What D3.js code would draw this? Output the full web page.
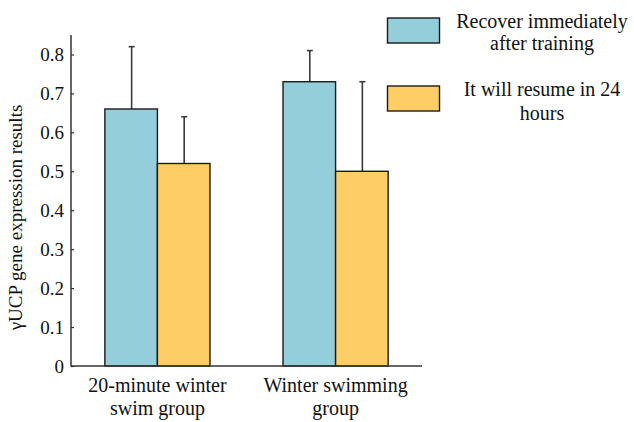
<!DOCTYPE html>
<html>
<head>
<meta charset="utf-8">
<script src="https://cdn.jsdelivr.net/npm/d3@7"></script>
</head>
<body style="margin:0">
<svg id="chart" width="634" height="422" font-family="Liberation Serif"></svg>
<script>
// Groups and series
const groups = ["20-minute winter swim group", "Winter swimming group"];
const groupLines = [["20-minute winter", "swim group"], ["Winter swimming", "group"]];
const seriesNames = ["Recover immediately after training", "It will resume in 24 hours"];
const legendLines = [["Recover immediately", "after training"], ["It will resume in 24", "hours"]];
const immediateMeans = [0.66, 0.73];
const immediateErr = [0.16, 0.08];
const day24Means = [0.52, 0.50];
const day24Err = [0.12, 0.23];
const yTicks = [0, 0.1, 0.2, 0.3, 0.4, 0.5, 0.6, 0.7, 0.8];
const colors = ["#95CEDB", "#FFCD66"];

const FONT = "Liberation Serif";
const svg = d3.select("#chart");
const plotLeft = 71, plotRight = 422, plotTop = 35, plotBottom = 366;

const x0 = d3.scaleBand().domain(groups).range([plotLeft, plotRight]).paddingInner(0.41).paddingOuter(0.19);
const x1 = d3.scaleBand().domain(seriesNames).range([0, x0.bandwidth()]);
const y = d3.scaleLinear().domain([0, 0.85]).range([plotBottom, plotTop]);

const rows = [];
groups.forEach((g, i) => {
  rows.push({ g, s: seriesNames[0], v: immediateMeans[i], e: immediateErr[i], c: colors[0] });
  rows.push({ g, s: seriesNames[1], v: day24Means[i], e: day24Err[i], c: colors[1] });
});

// Error bars (drawn under the bars so the stem starts at the bar top)
const eb = svg.append("g").attr("stroke", "#3a3a3a").attr("stroke-width", 1.6);
rows.forEach(d => {
  const cx = x0(d.g) + x1(d.s) + x1.bandwidth() / 2 + 0.5;
  eb.append("line").attr("x1", cx).attr("x2", cx).attr("y1", y(d.v)).attr("y2", y(d.v + d.e));
  eb.append("line").attr("x1", cx - 3).attr("x2", cx + 3).attr("y1", y(d.v + d.e)).attr("y2", y(d.v + d.e));
});

// Bars
svg.append("g").selectAll("rect").data(rows).join("rect")
  .attr("x", d => x0(d.g) + x1(d.s))
  .attr("y", d => y(d.v))
  .attr("width", x1.bandwidth())
  .attr("height", d => y(0) - y(d.v))
  .attr("fill", d => d.c)
  .attr("stroke", "#1a1a1a")
  .attr("stroke-width", 1.4);

// Y axis with inward ticks
const yAxis = svg.append("g").attr("transform", `translate(${plotLeft},0)`)
  .call(d3.axisLeft(y).tickValues(yTicks).tickSizeInner(-3).tickSizeOuter(0).tickPadding(7)
    .tickFormat(d => d === 0 ? "0" : d3.format(".1f")(d)));
yAxis.attr("font-family", FONT).attr("font-size", 19);
yAxis.select(".domain").remove();
yAxis.selectAll(".tick line").attr("stroke", "#333").attr("stroke-width", 1.2);
yAxis.selectAll(".tick text").attr("fill", "#111").attr("font-family", FONT).attr("font-size", 19);
svg.append("line").attr("x1", plotLeft).attr("x2", plotLeft).attr("y1", y.range()[1]).attr("y2", plotBottom + 0.5)
  .attr("stroke", "#333").attr("stroke-width", 1.5);

// X baseline
svg.append("line").attr("x1", plotLeft).attr("x2", plotRight).attr("y1", plotBottom).attr("y2", plotBottom)
  .attr("stroke", "#333").attr("stroke-width", 1.6);

// Category labels
groups.forEach((g, i) => {
  const cx = x0(g) + x0.bandwidth() / 2;
  groupLines[i].forEach((ln, k) => {
    svg.append("text").attr("x", cx).attr("y", 392 + k * 23)
      .attr("text-anchor", "middle").attr("fill", "#111").attr("font-size", 20)
      .attr("font-family", FONT).text(ln);
  });
});

// Y axis title
svg.append("text")
  .attr("transform", `translate(22,${(plotTop + plotBottom) / 2 + 17}) rotate(-90)`)
  .attr("text-anchor", "middle").attr("fill", "#111").attr("font-size", 19)
  .attr("font-family", FONT)
  .text("\u03B3UCP gene expression results");

// Legend
const legY = [18, 86];
const legBase = [[28, 50], [96, 120]];
seriesNames.forEach((s, i) => {
  svg.append("rect").attr("x", 387.5).attr("y", legY[i]).attr("width", 52).attr("height", 25)
    .attr("fill", colors[i]).attr("stroke", "#1a1a1a").attr("stroke-width", 1.4);
  legendLines[i].forEach((ln, k) => {
    svg.append("text").attr("x", 542).attr("y", legBase[i][k])
      .attr("text-anchor", "middle").attr("fill", "#111").attr("font-size", 20)
      .attr("font-family", FONT).text(ln);
  });
});
</script>
</body>
</html>
